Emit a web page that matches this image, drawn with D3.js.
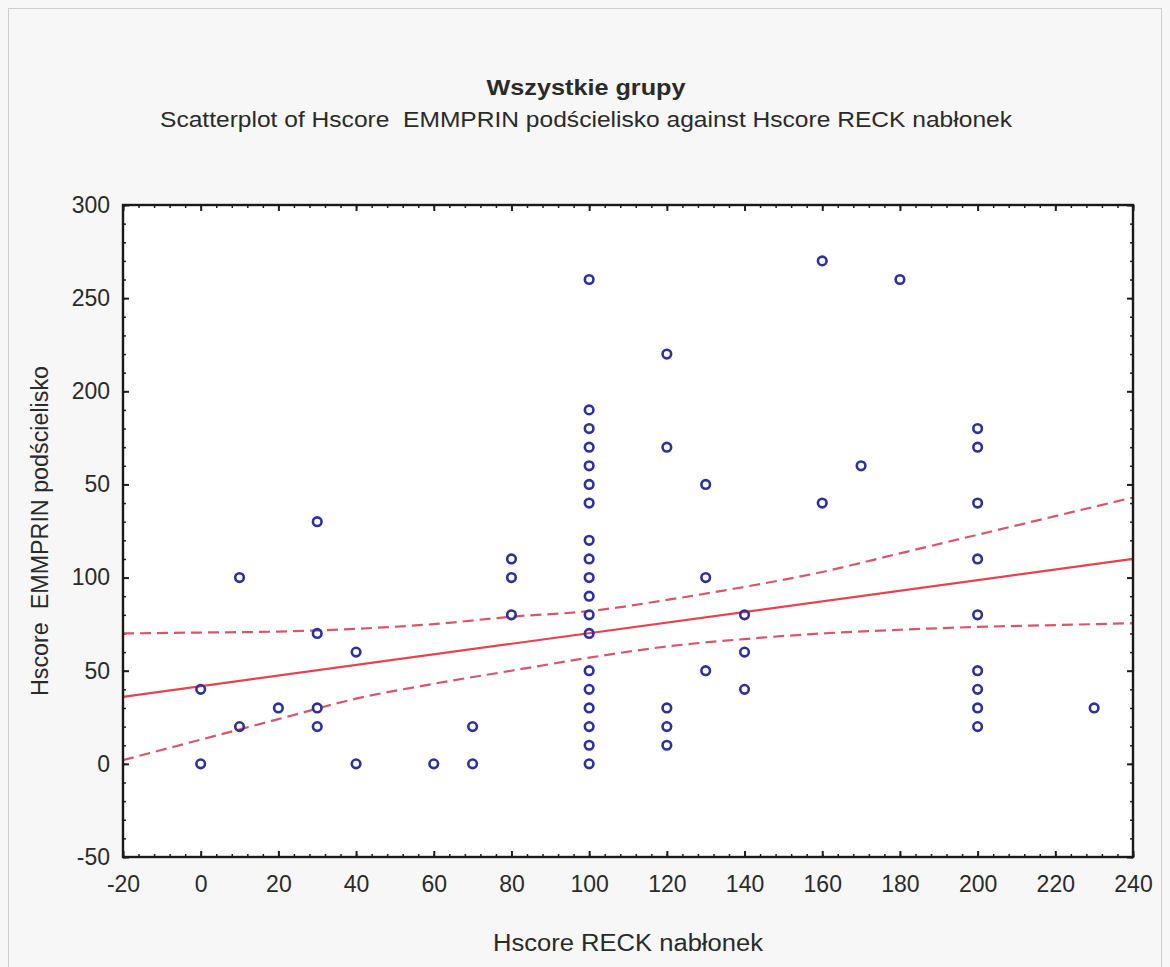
<!DOCTYPE html>
<html>
<head>
<meta charset="utf-8">
<script src="https://cdn.jsdelivr.net/npm/d3@7"></script>
<style>
body { margin: 0; background: #ffffff; }
text { font-family: "Liberation Sans", Arial, sans-serif; fill: #2a2a2a; white-space: pre; }
</style>
</head>
<body>
<svg id="chart"></svg>
<script>
// Hscore RECK nablonek (x) vs Hscore EMMPRIN podscielisko (y)
var reckX = [0, 0, 10, 10, 20, 30, 30, 30, 30, 40, 40, 60, 70, 70, 80, 80, 80,
    100, 100, 100, 100, 100, 100, 100, 100, 100, 100, 100, 100, 100, 100, 100, 100, 100, 100, 100,
    120, 120, 120, 120, 120, 130, 130, 130, 140, 140, 140, 160, 160, 170, 180,
    200, 200, 200, 200, 200, 200, 200, 200, 200, 230]
var emmprinY = [40, 0, 100, 20, 30, 130, 70, 30, 20, 60, 0, 0, 20, 0, 110, 100, 80,
    260, 190, 180, 170, 160, 150, 140, 120, 110, 100, 90, 80, 70, 50, 40, 30, 20, 10, 0,
    220, 170, 30, 20, 10, 150, 100, 50, 80, 60, 40, 270, 140, 160, 260,
    180, 170, 140, 110, 80, 50, 40, 30, 20, 30]

// regression line and 95% band, read at the x ticks
var fitX = [-20, 240]
var fitY = [36, 110]
var bandX = [-20, 0, 20, 40, 60, 80, 100, 120, 140, 160, 180, 200, 220, 240]
var bandUpper = [70, 70.5, 71, 72.5, 75, 79, 82, 88, 95, 103, 113, 123, 133, 143]
var bandLower = [2, 13, 24, 35, 43, 50, 57, 63, 67, 70, 72, 73.5, 74.5, 75.5]

var xTicks = [-20, 0, 20, 40, 60, 80, 100, 120, 140, 160, 180, 200, 220, 240]
var xTickLabels = ["-20", "0", "20", "40", "60", "80", "100", "120", "140", "160", "180", "200", "220", "240"]
var yTicks = [-50, 0, 50, 100, 150, 200, 250, 300]
var yTickLabels = ["-50", "0", "50", "100", "50", "200", "250", "300"]

var title = "Wszystkie grupy"
var subtitle = "Scatterplot of Hscore  EMMPRIN podścielisko against Hscore RECK nabłonek"
var xTitle = "Hscore RECK nabłonek"
var yTitle = "Hscore  EMMPRIN podścielisko"

var width = 1170
var height = 967
var plotL = 123, plotR = 1133, plotT = 205, plotB = 857

var svg = d3.select("#chart")
    .attr("width", width)
    .attr("height", height)

svg.append("rect")
    .attr("x", 0).attr("y", 0)
    .attr("width", width).attr("height", height)
    .attr("fill", "#f7f7f7")

svg.append("rect")
    .attr("x", 8.5).attr("y", 8.5)
    .attr("width", 1153).attr("height", 970)
    .attr("fill", "none")
    .attr("stroke", "#cfcfcf")

var x = d3.scaleLinear().domain([-20, 240]).range([plotL, plotR])
var y = d3.scaleLinear().domain([-50, 300]).range([plotB, plotT])

svg.append("rect")
    .attr("x", plotL).attr("y", plotT)
    .attr("width", plotR - plotL).attr("height", plotB - plotT)
    .attr("fill", "#ffffff")

// ticks point inwards, on all four sides
var xMinor = d3.range(-20, 241, 4)
var yMinor = d3.range(-50, 301, 10)

function tickStyle(w) {
    return function(g) {
        g.select(".domain").remove()
        g.selectAll(".tick line").attr("stroke", "#1e1e1e").attr("stroke-width", w)
        g.selectAll(".tick text")
            .style("font-size", "23px")
            .style("font-family", "'Liberation Sans', Arial, sans-serif")
            .attr("fill", "#2a2a2a")
    }
}

svg.append("g")
    .attr("transform", "translate(0," + plotB + ")")
    .call(d3.axisBottom(x).tickValues(xMinor).tickSize(-3).tickFormat(""))
    .call(tickStyle(1.5))
svg.append("g")
    .attr("transform", "translate(0," + plotB + ")")
    .call(d3.axisBottom(x).tickValues(xTicks).tickSize(-6).tickPadding(19)
        .tickFormat(function(d, i) { return xTickLabels[i] }))
    .call(tickStyle(2))
svg.append("g")
    .attr("transform", "translate(0," + plotT + ")")
    .call(d3.axisTop(x).tickValues(xMinor).tickSize(-3).tickFormat(""))
    .call(tickStyle(1.5))
svg.append("g")
    .attr("transform", "translate(0," + plotT + ")")
    .call(d3.axisTop(x).tickValues(xTicks).tickSize(-6).tickFormat(""))
    .call(tickStyle(2))

svg.append("g")
    .attr("transform", "translate(" + plotL + ",0)")
    .call(d3.axisLeft(y).tickValues(yMinor).tickSize(-3).tickFormat(""))
    .call(tickStyle(1.5))
svg.append("g")
    .attr("transform", "translate(" + plotL + ",0)")
    .call(d3.axisLeft(y).tickValues(yTicks).tickSize(-6).tickPadding(13)
        .tickFormat(function(d, i) { return yTickLabels[i] }))
    .call(tickStyle(2))
svg.append("g")
    .attr("transform", "translate(" + plotR + ",0)")
    .call(d3.axisRight(y).tickValues(yMinor).tickSize(-3).tickFormat(""))
    .call(tickStyle(1.5))
svg.append("g")
    .attr("transform", "translate(" + plotR + ",0)")
    .call(d3.axisRight(y).tickValues(yTicks).tickSize(-6).tickFormat(""))
    .call(tickStyle(2))

var plot = svg.append("g")

var band = bandX.map(function(d, i) { return { x: d, up: bandUpper[i], lo: bandLower[i] } })
var bandLine = function(key) {
    return d3.line()
        .x(function(d) { return x(d.x) })
        .y(function(d) { return y(d[key]) })
        .curve(d3.curveMonotoneX)
}

plot.append("path")
    .datum(band)
    .attr("fill", "none")
    .attr("stroke", "#d9566a")
    .attr("stroke-width", 2.2)
    .attr("stroke-dasharray", "11,6")
    .attr("d", bandLine("up"))

plot.append("path")
    .datum(band)
    .attr("fill", "none")
    .attr("stroke", "#d9566a")
    .attr("stroke-width", 2.2)
    .attr("stroke-dasharray", "11,6")
    .attr("d", bandLine("lo"))

plot.append("path")
    .datum(fitX.map(function(d, i) { return [d, fitY[i]] }))
    .attr("fill", "none")
    .attr("stroke", "#e8424e")
    .attr("stroke-width", 2.2)
    .attr("d", d3.line()
        .x(function(d) { return x(d[0]) })
        .y(function(d) { return y(d[1]) }))

plot.selectAll("circle")
    .data(reckX)
    .enter()
    .append("circle")
        .attr("cx", function(d) { return x(d) })
        .attr("cy", function(d, i) { return y(emmprinY[i]) })
        .attr("r", 4.3)
        .attr("fill", "none")
        .attr("stroke", "#30309a")
        .attr("stroke-width", 2.6)

// frame
svg.append("rect")
    .attr("x", plotL).attr("y", plotT)
    .attr("width", plotR - plotL).attr("height", plotB - plotT)
    .attr("fill", "none")
    .attr("stroke", "#1a1a1a")
    .attr("stroke-width", 2.4)

svg.append("text")
    .attr("x", 586).attr("y", 95)
    .attr("text-anchor", "middle")
    .attr("textLength", 199)
    .attr("lengthAdjust", "spacingAndGlyphs")
    .style("font-size", "22px")
    .style("font-weight", "bold")
    .text(title)

svg.append("text")
    .attr("x", 586).attr("y", 127)
    .attr("text-anchor", "middle")
    .attr("textLength", 852)
    .attr("lengthAdjust", "spacingAndGlyphs")
    .style("font-size", "22px")
    .text(subtitle)

svg.append("text")
    .attr("x", (plotL + plotR) / 2).attr("y", 951)
    .attr("text-anchor", "middle")
    .attr("textLength", 270)
    .attr("lengthAdjust", "spacingAndGlyphs")
    .style("font-size", "23px")
    .text(xTitle)

svg.append("text")
    .attr("transform", "translate(48," + (plotT + plotB) / 2 + ") rotate(-90)")
    .attr("text-anchor", "middle")
    .attr("textLength", 330)
    .attr("lengthAdjust", "spacingAndGlyphs")
    .style("font-size", "23px")
    .text(yTitle)
</script>
</body>
</html>
